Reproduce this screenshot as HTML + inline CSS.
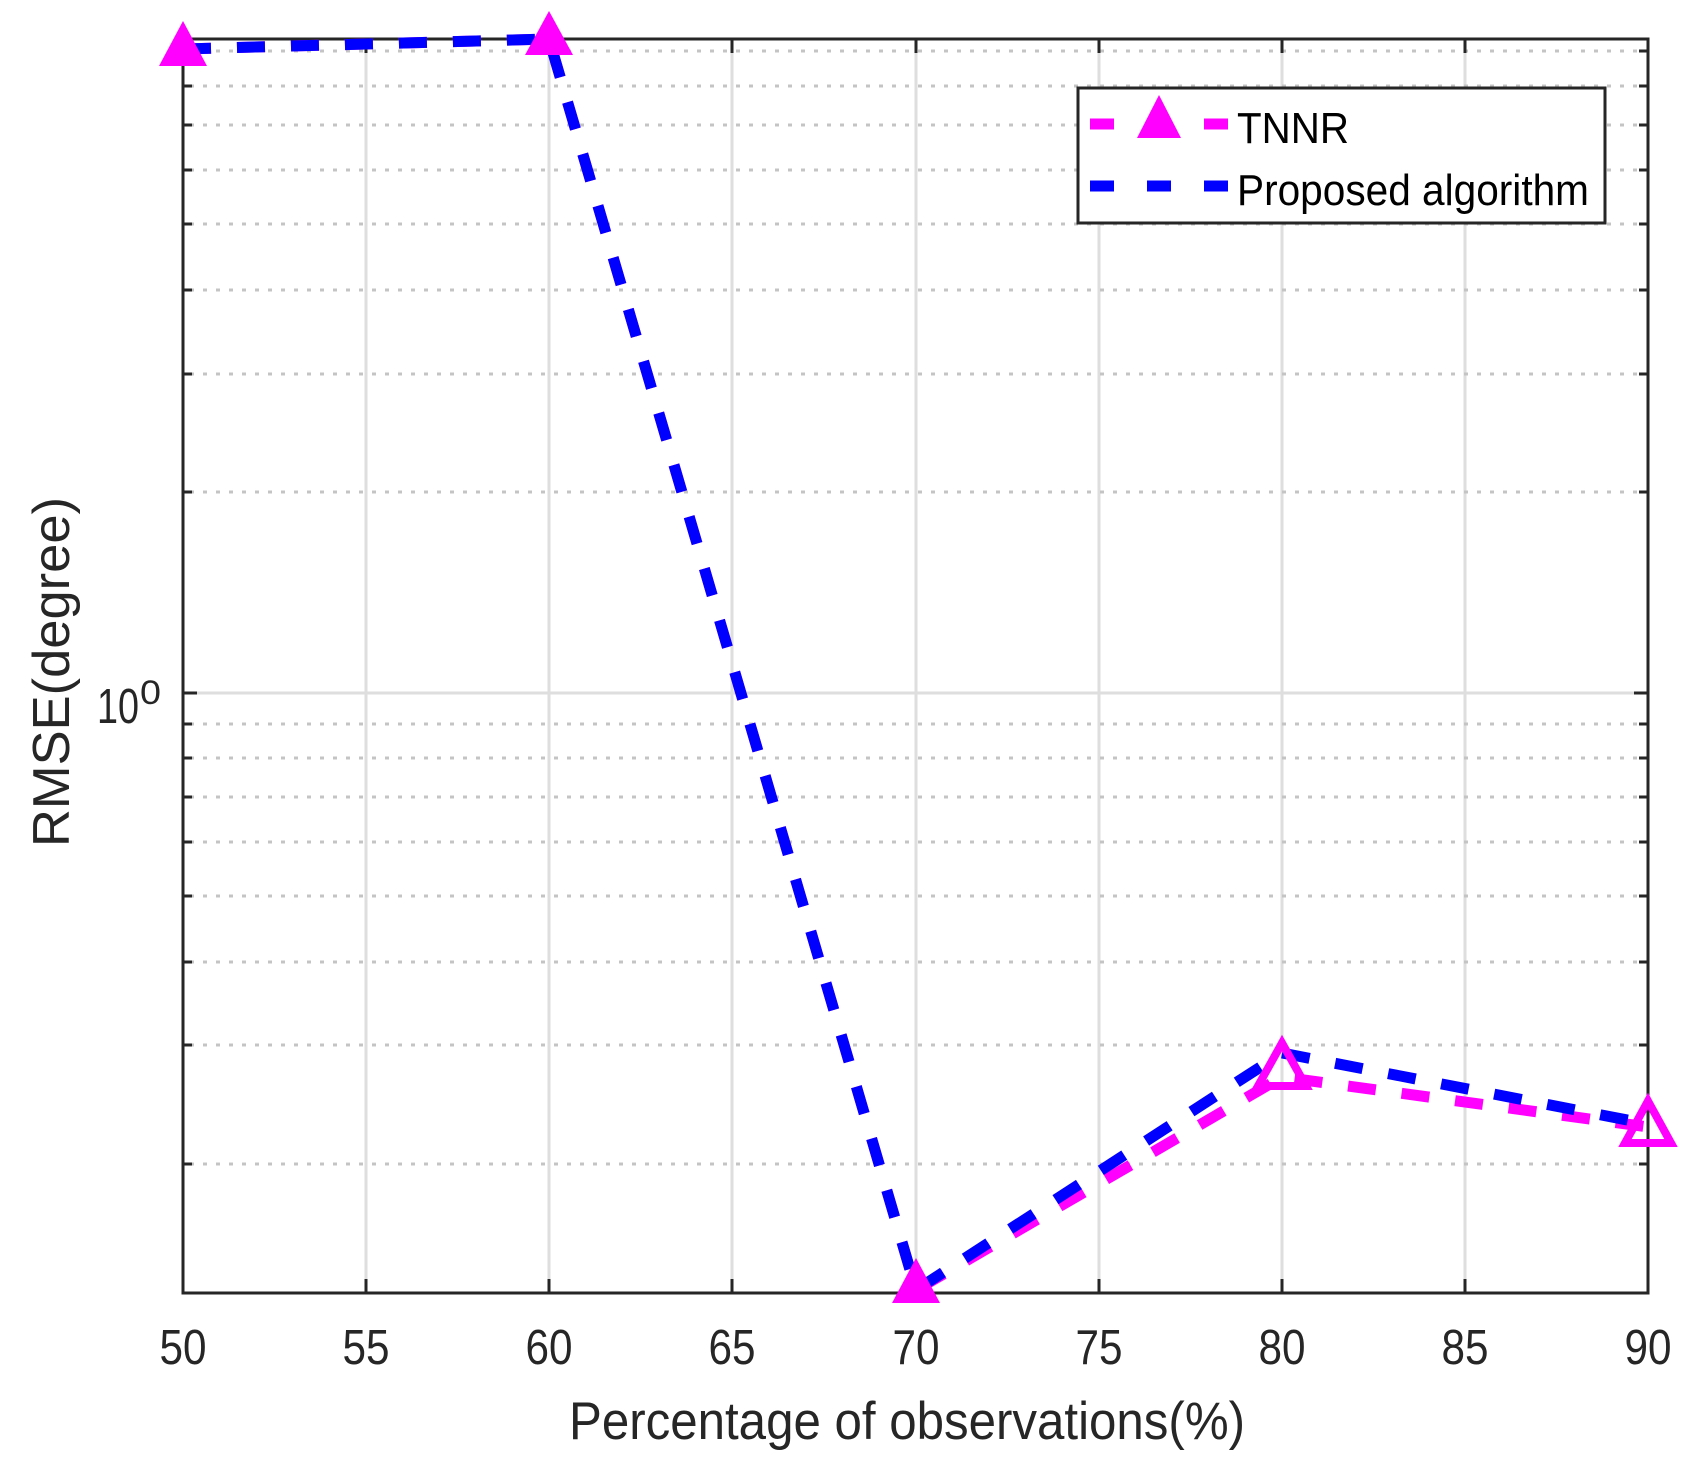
<!DOCTYPE html>
<html><head><meta charset="utf-8"><style>
html,body{margin:0;padding:0;background:#fff;}
svg{display:block;}
text{font-family:"Liberation Sans",sans-serif;fill:#262626;}
</style></head><body>
<svg width="1704" height="1469" viewBox="0 0 1704 1469" xmlns="http://www.w3.org/2000/svg">
<rect width="1704" height="1469" fill="#fff"/>
<g stroke="#dedede" stroke-width="3">
<line x1="366" y1="39" x2="366" y2="1293"/>
<line x1="549" y1="39" x2="549" y2="1293"/>
<line x1="732" y1="39" x2="732" y2="1293"/>
<line x1="916" y1="39" x2="916" y2="1293"/>
<line x1="1099" y1="39" x2="1099" y2="1293"/>
<line x1="1282" y1="39" x2="1282" y2="1293"/>
<line x1="1465" y1="39" x2="1465" y2="1293"/>
<line x1="183" y1="693" x2="1648" y2="693"/>
</g>
<g stroke="#c4c4c4" stroke-width="3" stroke-dasharray="4 9">
<line x1="190" y1="51" x2="1640" y2="51"/>
<line x1="190" y1="86" x2="1640" y2="86"/>
<line x1="190" y1="125" x2="1640" y2="125"/>
<line x1="190" y1="170" x2="1640" y2="170"/>
<line x1="190" y1="224" x2="1640" y2="224"/>
<line x1="190" y1="290" x2="1640" y2="290"/>
<line x1="190" y1="374" x2="1640" y2="374"/>
<line x1="190" y1="492" x2="1640" y2="492"/>
<line x1="190" y1="724" x2="1640" y2="724"/>
<line x1="190" y1="758" x2="1640" y2="758"/>
<line x1="190" y1="797" x2="1640" y2="797"/>
<line x1="190" y1="842" x2="1640" y2="842"/>
<line x1="190" y1="896" x2="1640" y2="896"/>
<line x1="190" y1="962" x2="1640" y2="962"/>
<line x1="190" y1="1045" x2="1640" y2="1045"/>
<line x1="190" y1="1164" x2="1640" y2="1164"/>
</g>
<g stroke="#262626" stroke-width="3">
<path d="M183 51h9M183 86h9M183 125h9M183 170h9M183 224h9M183 290h9M183 374h9M183 492h9M183 693h14M183 724h9M183 758h9M183 797h9M183 842h9M183 896h9M183 962h9M183 1045h9M183 1164h9"/>
<path d="M1648 51h-9M1648 86h-9M1648 125h-9M1648 170h-9M1648 224h-9M1648 290h-9M1648 374h-9M1648 492h-9M1648 693h-14M1648 724h-9M1648 758h-9M1648 797h-9M1648 842h-9M1648 896h-9M1648 962h-9M1648 1045h-9M1648 1164h-9"/>
<path d="M366 1293v-14M549 1293v-14M732 1293v-14M916 1293v-14M1099 1293v-14M1282 1293v-14M1465 1293v-14"/>
<path d="M366 39v14M549 39v14M732 39v14M916 39v14M1099 39v14M1282 39v14M1465 39v14"/>
</g>
<rect x="183" y="39" width="1465" height="1254" fill="none" stroke="#262626" stroke-width="3"/>
<g fill="none" stroke-width="11" stroke-dasharray="28 26" stroke-linejoin="miter">
<polyline stroke="#ff00ff" points="183,49 549,39 916,1290 1282,1077 1648,1127"/>
<polyline stroke="#0000ff" points="183,49 549,39 916,1290 1282,1053 1648,1124"/>
</g>
<g fill="#ff00ff">
<polygon points="183,21 207,66 159,66"/>
<polygon points="549,11 573,55 525,55"/>
<polygon points="916,1258 940,1303 892,1303"/>
<polygon points="1282,1043 1306,1086 1258,1086" fill="none" stroke="#ff00ff" stroke-width="8"/>
<polygon points="1648,1101 1671,1143 1625,1143" fill="none" stroke="#ff00ff" stroke-width="8"/>
</g>
<g font-size="49" text-anchor="middle">
<text x="183" y="1364" textLength="47" lengthAdjust="spacingAndGlyphs">50</text>
<text x="366" y="1364" textLength="47" lengthAdjust="spacingAndGlyphs">55</text>
<text x="549" y="1364" textLength="47" lengthAdjust="spacingAndGlyphs">60</text>
<text x="732" y="1364" textLength="47" lengthAdjust="spacingAndGlyphs">65</text>
<text x="916" y="1364" textLength="47" lengthAdjust="spacingAndGlyphs">70</text>
<text x="1099" y="1364" textLength="47" lengthAdjust="spacingAndGlyphs">75</text>
<text x="1282" y="1364" textLength="47" lengthAdjust="spacingAndGlyphs">80</text>
<text x="1465" y="1364" textLength="47" lengthAdjust="spacingAndGlyphs">85</text>
<text x="1648" y="1364" textLength="47" lengthAdjust="spacingAndGlyphs">90</text>
</g>
<text x="97" y="723" font-size="49" textLength="42" lengthAdjust="spacingAndGlyphs">10</text>
<text x="140" y="704" font-size="34" textLength="21" lengthAdjust="spacingAndGlyphs">0</text>
<text x="907" y="1439" font-size="53" text-anchor="middle" textLength="676" lengthAdjust="spacingAndGlyphs">Percentage of observations(%)</text>
<text transform="translate(69,672) rotate(-90)" font-size="52" text-anchor="middle" textLength="350" lengthAdjust="spacingAndGlyphs">RMSE(degree)</text>
<rect x="1078" y="88" width="527" height="135" fill="#fff" stroke="#262626" stroke-width="3"/>
<g stroke-width="11">
<line x1="1090" y1="124" x2="1114" y2="124" stroke="#ff00ff"/>
<line x1="1204" y1="124" x2="1228" y2="124" stroke="#ff00ff"/>
<line x1="1090" y1="186" x2="1114" y2="186" stroke="#0000ff"/>
<line x1="1147" y1="186" x2="1171" y2="186" stroke="#0000ff"/>
<line x1="1204" y1="186" x2="1228" y2="186" stroke="#0000ff"/>
</g>
<polygon points="1159,95 1181,138 1137,138" fill="#ff00ff"/>
<text x="1237" y="143" font-size="44" style="fill:#000" textLength="112" lengthAdjust="spacingAndGlyphs">TNNR</text>
<text x="1237" y="205" font-size="44" style="fill:#000" textLength="352" lengthAdjust="spacingAndGlyphs">Proposed algorithm</text>
</svg>
</body></html>
